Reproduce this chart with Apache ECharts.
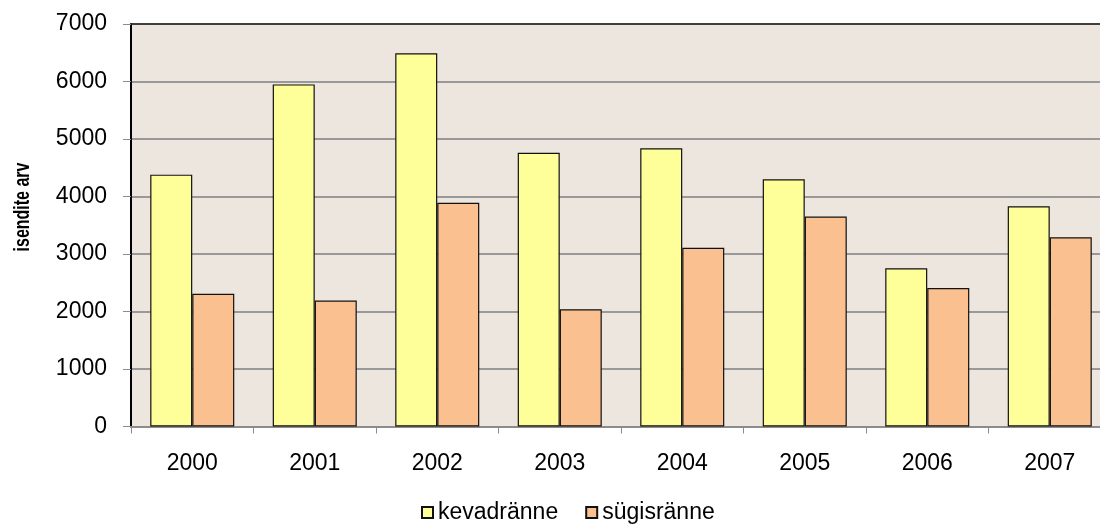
<!DOCTYPE html>
<html>
<head>
<meta charset="utf-8">
<script src="https://cdn.jsdelivr.net/npm/echarts@6/dist/echarts.min.js"></script>
<style>
  html, body { margin: 0; padding: 0; background: #ffffff; }
  #chart { width: 1100px; height: 526px; }
</style>
</head>
<body>
<div id="chart"></div>
<script>
// Yearly counts per run
const years = ['2000', '2001', '2002', '2003', '2004', '2005', '2006', '2007'];
const kevadranne = [4380, 5950, 6490, 4760, 4840, 4300, 2750, 3830];
const sugisranne = [2310, 2190, 3890, 2040, 3110, 3650, 2410, 3290];
const seriesNames = ['kevadränne', 'sügisränne'];
const yAxisTitle = 'isendite arv';

const FONT = '"Liberation Sans", Arial, sans-serif';

const chart = echarts.init(document.getElementById('chart'));
chart.setOption({
  animation: false,
  backgroundColor: '#ffffff',
  textStyle: { fontFamily: FONT },
  grid: {
    left: 131, width: 980, top: 24, bottom: 99.5,
    outerBoundsMode: 'none',
    containLabel: false,
    show: true, backgroundColor: '#ece6de', borderWidth: 0
  },
  legend: {
    data: seriesNames,
    left: 416, top: 496,
    itemWidth: 11, itemHeight: 11, itemGap: 27,
    icon: 'rect',
    textStyle: { fontFamily: FONT, fontSize: 23, color: '#000' }
  },
  graphic: [{
    type: 'text',
    x: 23, y: 207,
    rotation: Math.PI / 2,
    scaleX: 1, scaleY: 1.35,
    style: {
      text: yAxisTitle,
      fontFamily: FONT,
      fontSize: 16,
      fontWeight: 'bold',
      fill: '#000',
      align: 'center',
      verticalAlign: 'middle'
    }
  }],
  xAxis: [{
    type: 'category',
    data: years,
    position: 'bottom',
    axisLine: { lineStyle: { color: '#8c8c8c', width: 2 } },
    axisTick: { show: true, inside: false, length: 7, lineStyle: { color: '#8c8c8c', width: 1 } },
    axisLabel: { fontFamily: FONT, fontSize: 23, color: '#000', margin: 26 },
    splitLine: { show: false }
  }, {
    type: 'category',
    data: years,
    position: 'top',
    axisLine: { lineStyle: { color: '#222', width: 1.5 } },
    axisTick: { show: false },
    axisLabel: { show: false }
  }],
  yAxis: {
    type: 'value',
    min: 0, max: 7000, interval: 1000,
    axisLine: { show: true, lineStyle: { color: '#000', width: 2 } },
    axisTick: { show: true, length: 8, lineStyle: { color: '#8c8c8c', width: 1 } },
    axisLabel: { fontFamily: FONT, fontSize: 23, color: '#000', margin: 24, formatter: v => String(v) },
    splitLine: { show: true, lineStyle: { color: '#999999', width: 2 } }
  },
  series: [{
    name: seriesNames[0],
    type: 'bar',
    data: kevadranne,
    barGap: '0%',
    barCategoryGap: '31.4%',
    itemStyle: { color: '#ffff99', borderColor: '#111', borderWidth: 1.2 }
  }, {
    name: seriesNames[1],
    type: 'bar',
    data: sugisranne,
    barGap: '0%',
    barCategoryGap: '31.4%',
    itemStyle: { color: '#fac090', borderColor: '#111', borderWidth: 1.2 }
  }]
});
</script>
</body>
</html>
